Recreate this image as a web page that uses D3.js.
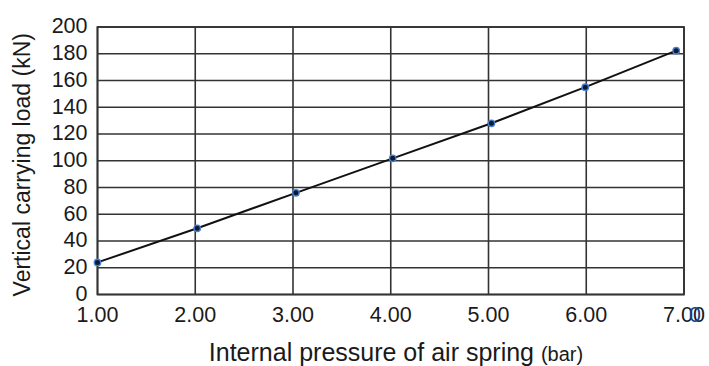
<!DOCTYPE html>
<html>
<head>
<meta charset="utf-8">
<script src="https://cdn.jsdelivr.net/npm/d3@7"></script>
<style>
  html, body { margin: 0; padding: 0; background: #fff; }
  svg { display: block; font-family: 'Liberation Sans', Arial, sans-serif; }
  .grid line { stroke: #333; stroke-width: 1.6; }
  .tick-label { fill: #1a1a1a; font-size: 21.5px; }
  .title { fill: #1a1a1a; font-size: 25px; }
</style>
</head>
<body>
<svg id="chart" width="709" height="366"></svg>
<script>
// ------------------------------------------
//  Data
// ------------------------------------------
const pressure = [1.00, 2.02, 3.03, 4.02, 5.03, 5.99, 6.92]
const load = [24, 49.5, 76, 101.8, 128, 155, 182.3]
const xTicks = [1, 2, 3, 4, 5, 6, 7]
const yTicks = [0, 20, 40, 60, 80, 100, 120, 140, 160, 180, 200]

// ------------------------------------------
//  Chart
// ------------------------------------------
const svg = d3.select('#chart')
const margin = { top: 27, right: 25, bottom: 71.5, left: 97.5 }
const width = 709 - margin.left - margin.right
const height = 366 - margin.top - margin.bottom
const g = svg.append('g').attr('transform', `translate(${margin.left},${margin.top})`)

const x = d3.scaleLinear().domain([1, 7]).range([0, width])
const y = d3.scaleLinear().domain([0, 200]).range([height, 0])

const grid = g.append('g').attr('class', 'grid')

grid.selectAll('.h').data(yTicks).enter().append('line')
  .attr('x1', 0).attr('x2', width)
  .attr('y1', d => y(d)).attr('y2', d => y(d))

grid.selectAll('.v').data(xTicks).enter().append('line')
  .attr('x1', d => x(d)).attr('x2', d => x(d))
  .attr('y1', 0).attr('y2', height)

g.append('rect')
  .attr('width', width).attr('height', height)
  .attr('fill', 'none').attr('stroke', '#333').attr('stroke-width', 1.8)

// tick labels
g.selectAll('.ylab').data(yTicks).enter().append('text')
  .attr('class', 'tick-label')
  .attr('x', -10)
  .attr('y', d => y(d))
  .attr('dy', '0.3em')
  .attr('text-anchor', 'end')
  .text(d => d)

g.selectAll('.xlab').data(xTicks).enter().append('text')
  .attr('class', 'tick-label')
  .attr('x', d => x(d))
  .attr('y', height + 27)
  .attr('text-anchor', 'middle')
  .text(d3.format('.2f'))

// stray glyph next to the last label
g.append('text')
  .attr('class', 'tick-label')
  .attr('x', x(7) + 11)
  .attr('y', height + 27)
  .attr('text-anchor', 'middle')
  .style('fill', '#1f3f7a')
  .text('0')

// line + points
const line = d3.line().x((d, i) => x(pressure[i])).y(d => y(d))

g.append('path')
  .datum(load)
  .attr('d', line)
  .attr('fill', 'none')
  .attr('stroke', '#111')
  .attr('stroke-width', 2)

g.selectAll('.point').data(load).enter().append('circle')
  .attr('cx', (d, i) => x(pressure[i]))
  .attr('cy', d => y(d))
  .attr('r', 3.2)
  .attr('fill', '#0d1a33')
  .attr('stroke', '#4a7fd0')
  .attr('stroke-width', 1.4)

// axis titles
svg.append('text')
  .attr('class', 'title')
  .attr('transform', `translate(30,${margin.top + height / 2 + 4}) rotate(-90)`)
  .attr('text-anchor', 'middle')
  .style('font-size', '23px')
  .text('Vertical carrying load (kN)')

const xt = svg.append('text')
  .attr('class', 'title')
  .attr('x', 396)
  .attr('y', 361)
  .attr('text-anchor', 'middle')
xt.append('tspan').text('Internal pressure of air spring ')
xt.append('tspan').style('font-size', '20px').text('(bar)')
</script>
</body>
</html>
